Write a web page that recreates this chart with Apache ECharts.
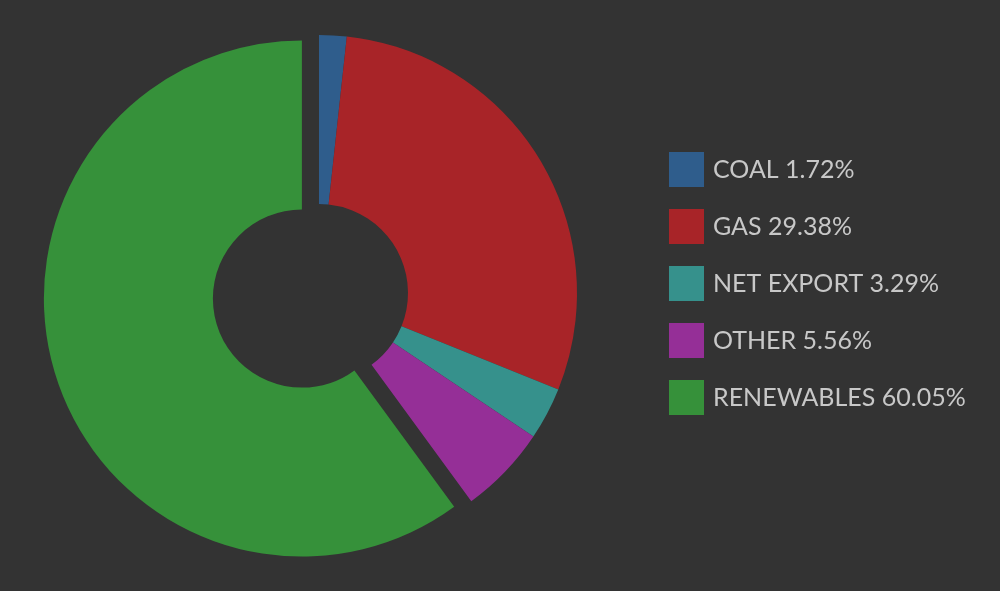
<!DOCTYPE html>
<html>
<head>
<meta charset="utf-8">
<script src="https://cdn.jsdelivr.net/npm/echarts@6/dist/echarts.min.js"></script>
<style>
  html, body { margin: 0; padding: 0; background: #333333; }
  #main { width: 1000px; height: 591px; }
</style>
</head>
<body>
<div id="main"></div>
<script>
// energy mix, percent shares
var sources = ['COAL', 'GAS', 'NET EXPORT', 'OTHER', 'RENEWABLES'];
var shares = [1.72, 29.38, 3.29, 5.56, 60.05];
var colors = ['#2f5d8c', '#a82428', '#36918c', '#952f97', '#36913a'];

var chart = echarts.init(document.getElementById('main'));

var option = {
  backgroundColor: '#333333',
  animation: false,
  legend: {
    orient: 'vertical',
    left: 664,
    top: 147,
    itemWidth: 35,
    itemHeight: 35,
    itemGap: 22,
    icon: 'rect',
    selectedMode: false,
    textStyle: {
      color: '#c8c8c8',
      fontFamily: 'Lato',
      fontSize: 25,
      padding: [0, 0, 0, 4]
    },
    formatter: function (name) {
      var i = sources.indexOf(name);
      return name + ' ' + shares[i].toFixed(2) + '%';
    },
    data: sources
  },
  series: [{
    type: 'pie',
    center: [319, 293],
    radius: [89, 258],
    startAngle: 90,
    clockwise: true,
    selectedMode: 'single',
    selectedOffset: 18,
    label: { show: false },
    labelLine: { show: false },
    emphasis: { disabled: true },
    data: sources.map(function (s, i) {
      return {
        name: s,
        value: shares[i],
        selected: s === 'RENEWABLES',
        itemStyle: { color: colors[i] }
      };
    })
  }]
};

chart.setOption(option);
</script>
</body>
</html>
